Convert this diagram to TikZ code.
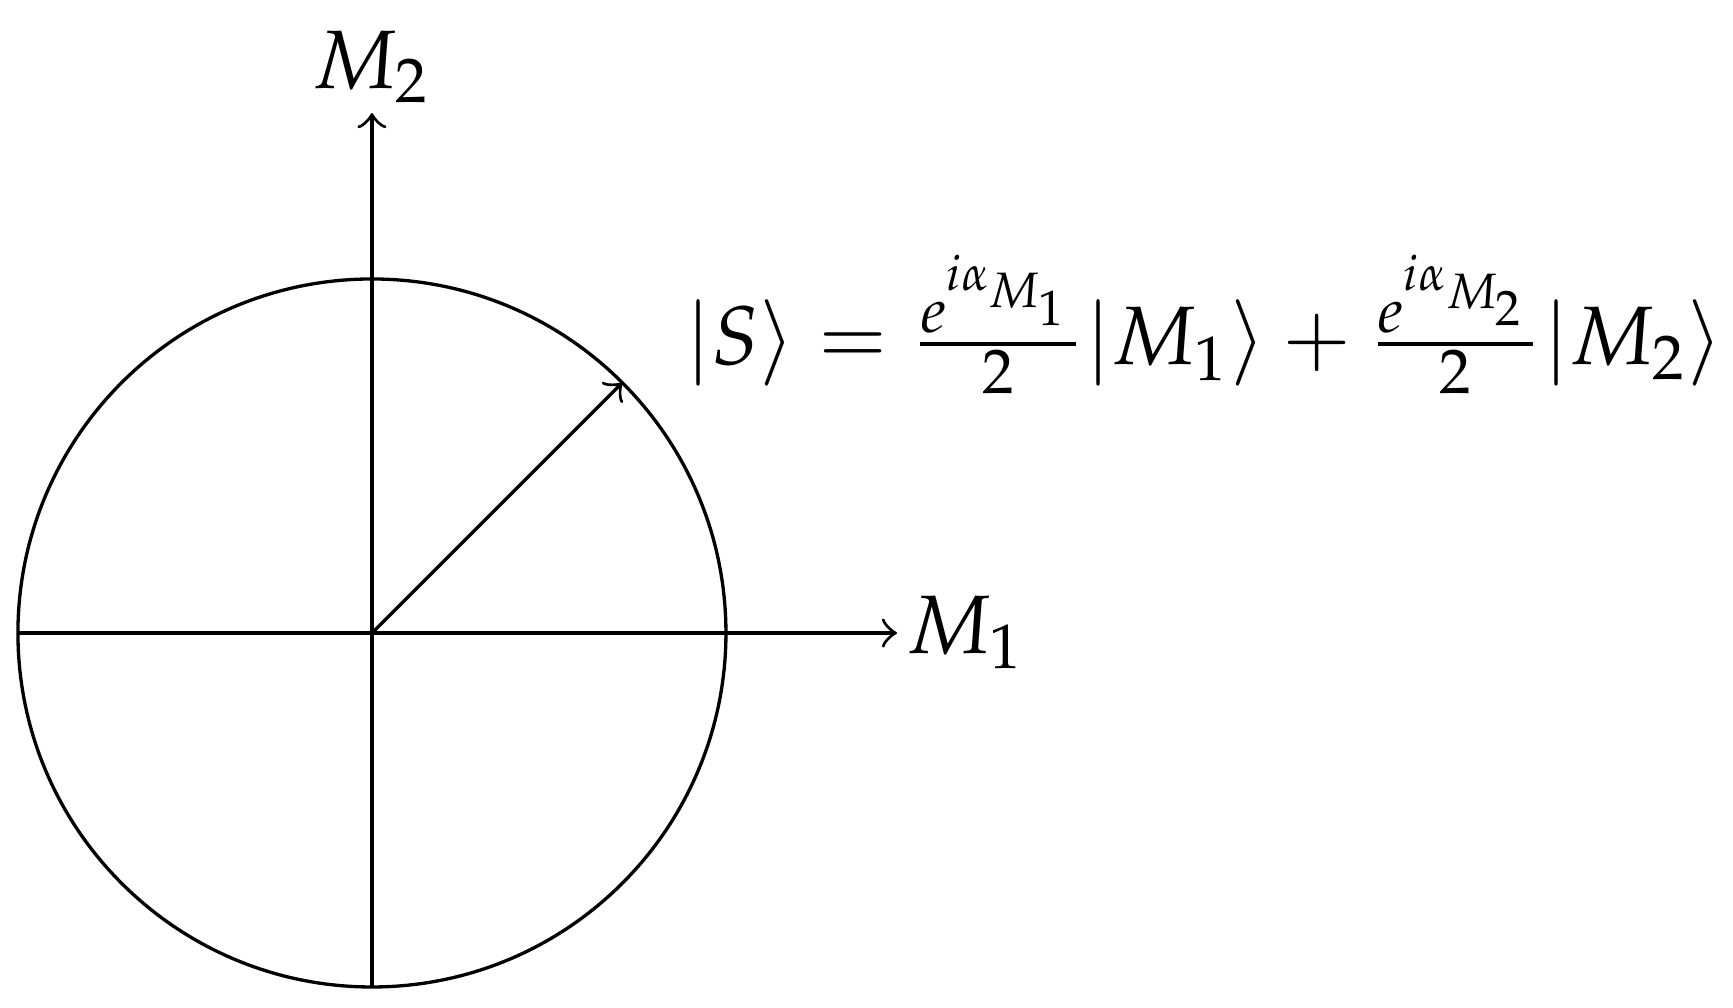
\documentclass[tikz,border=0pt]{standalone}
\usepackage{mathpazo}
\begin{document}
\begin{tikzpicture}
\tikzset{axis/.style={->}, lbl/.style={inner sep=0pt}}
\useasboundingbox (-1.576,-1.589) rectangle (5.767,2.682);
\coordinate (O) at (0,0);
\coordinate (L) at (-1.5,0);
\coordinate (B) at (0,-1.5);
\coordinate (X) at (2.225,0);
\coordinate (Y) at (0,2.203);
\coordinate (P) at (45:1.5);
\draw (O) circle (1.5);
\draw[axis] (L) -- (X);
\draw[axis] (B) -- (Y);
\draw[axis] (O) -- (P);
\node[lbl, anchor=base west] (m1) at (2.257,-0.085) {$M_1$};
\node[lbl, anchor=base] (m2) at (0,2.309) {$M_2$};
\node[lbl, anchor=base west] (eq) at (1.32,1.136) {$|S\rangle = \frac{e^{i\alpha_{M_1}}}{2}|M_1\rangle + \frac{e^{i\alpha_{M_2}}}{2}|M_2\rangle$};
\end{tikzpicture}
\end{document}
